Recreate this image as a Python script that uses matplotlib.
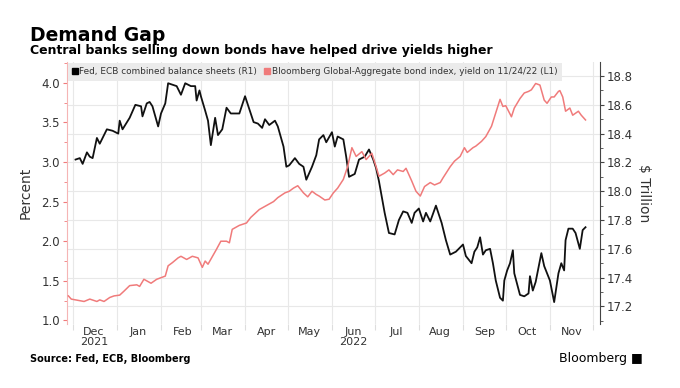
import matplotlib
matplotlib.use('Agg')
import matplotlib.pyplot as plt
import matplotlib.dates as mdates
from matplotlib.lines import Line2D
from matplotlib.ticker import MultipleLocator, FixedLocator
import pandas as pd

# Fed + ECB combined balance sheets, $ trillion (right axis)
bs_dates = ['2021-12-03', '2021-12-06', '2021-12-08', '2021-12-11', '2021-12-13', '2021-12-15',
            '2021-12-18', '2021-12-20', '2021-12-25', '2021-12-29', '2022-01-02', '2022-01-03',
            '2022-01-05', '2022-01-10', '2022-01-14', '2022-01-18', '2022-01-19', '2022-01-22',
            '2022-01-24', '2022-01-26', '2022-01-30', '2022-02-01', '2022-02-04', '2022-02-06',
            '2022-02-09', '2022-02-12', '2022-02-15', '2022-02-18', '2022-02-22', '2022-02-25',
            '2022-02-26', '2022-02-28', '2022-03-01', '2022-03-04', '2022-03-06', '2022-03-08',
            '2022-03-11', '2022-03-13', '2022-03-16', '2022-03-19', '2022-03-22', '2022-03-28',
            '2022-04-01', '2022-04-03', '2022-04-07', '2022-04-10', '2022-04-13', '2022-04-15',
            '2022-04-18', '2022-04-22', '2022-04-24', '2022-04-28', '2022-04-30', '2022-05-02',
            '2022-05-06', '2022-05-09', '2022-05-12', '2022-05-14', '2022-05-18', '2022-05-21',
            '2022-05-23', '2022-05-26', '2022-05-28', '2022-06-01', '2022-06-03', '2022-06-05',
            '2022-06-09', '2022-06-11', '2022-06-13', '2022-06-17', '2022-06-20', '2022-06-24',
            '2022-06-27', '2022-06-30', '2022-07-02', '2022-07-04', '2022-07-08', '2022-07-11',
            '2022-07-15', '2022-07-18', '2022-07-21', '2022-07-24', '2022-07-27', '2022-07-29',
            '2022-08-01', '2022-08-04', '2022-08-06', '2022-08-09', '2022-08-13', '2022-08-17',
            '2022-08-20', '2022-08-23', '2022-08-27', '2022-09-01', '2022-09-03', '2022-09-07',
            '2022-09-09', '2022-09-11', '2022-09-13', '2022-09-15', '2022-09-17', '2022-09-20',
            '2022-09-22', '2022-09-24', '2022-09-27', '2022-09-29', '2022-09-30', '2022-10-02',
            '2022-10-04', '2022-10-06', '2022-10-07', '2022-10-11', '2022-10-14', '2022-10-17',
            '2022-10-18', '2022-10-20', '2022-10-22', '2022-10-26', '2022-10-28', '2022-11-01',
            '2022-11-04', '2022-11-07', '2022-11-09', '2022-11-11', '2022-11-12', '2022-11-14',
            '2022-11-17', '2022-11-19', '2022-11-22', '2022-11-24', '2022-11-26']
bs_vals = [18.22, 18.23, 18.19, 18.27, 18.24, 18.23,
           18.37, 18.33, 18.43, 18.42, 18.40, 18.49,
           18.43, 18.51, 18.60, 18.59, 18.52, 18.61,
           18.62, 18.59, 18.45, 18.54, 18.61, 18.75,
           18.74, 18.73, 18.67, 18.75, 18.73, 18.73,
           18.63, 18.70, 18.66, 18.56, 18.49, 18.32,
           18.51, 18.39, 18.43, 18.58, 18.54, 18.54,
           18.66, 18.60, 18.48, 18.47, 18.44, 18.50,
           18.46, 18.49, 18.45, 18.31, 18.17, 18.18,
           18.23, 18.19, 18.17, 18.08, 18.17, 18.25,
           18.36, 18.39, 18.34, 18.41, 18.31, 18.38,
           18.36, 18.24, 18.10, 18.12, 18.22, 18.24,
           18.29, 18.22, 18.16, 18.07, 17.85, 17.71,
           17.70, 17.80, 17.86, 17.85, 17.78, 17.85,
           17.88, 17.79, 17.85, 17.79, 17.90, 17.78,
           17.66, 17.56, 17.58, 17.63, 17.55, 17.50,
           17.58, 17.61, 17.68, 17.56, 17.59, 17.60,
           17.50, 17.38, 17.26, 17.24, 17.38, 17.45,
           17.50, 17.59, 17.43, 17.28, 17.27, 17.29,
           17.41, 17.31, 17.37, 17.57, 17.48, 17.38,
           17.23, 17.43, 17.50, 17.45, 17.66, 17.74,
           17.74, 17.71, 17.60, 17.73, 17.75]

# Bloomberg Global-Aggregate bond index yield, percent (left axis)
yld_dates = ['2021-11-28', '2021-11-30', '2021-12-06', '2021-12-09', '2021-12-13', '2021-12-18',
             '2021-12-20', '2021-12-23', '2021-12-27', '2021-12-30', '2022-01-03', '2022-01-06',
             '2022-01-10', '2022-01-15', '2022-01-17', '2022-01-20', '2022-01-23', '2022-01-25',
             '2022-01-29', '2022-02-01', '2022-02-04', '2022-02-06', '2022-02-09', '2022-02-13',
             '2022-02-15', '2022-02-19', '2022-02-23', '2022-02-27', '2022-03-02', '2022-03-04',
             '2022-03-06', '2022-03-12', '2022-03-15', '2022-03-19', '2022-03-21', '2022-03-23',
             '2022-03-28', '2022-04-02', '2022-04-05', '2022-04-11', '2022-04-15', '2022-04-21',
             '2022-04-24', '2022-04-29', '2022-05-02', '2022-05-05', '2022-05-08', '2022-05-12',
             '2022-05-15', '2022-05-18', '2022-05-21', '2022-05-23', '2022-05-27', '2022-05-30',
             '2022-06-02', '2022-06-05', '2022-06-09', '2022-06-12', '2022-06-15', '2022-06-18',
             '2022-06-22', '2022-06-25', '2022-06-29', '2022-07-02', '2022-07-04', '2022-07-08',
             '2022-07-11', '2022-07-14', '2022-07-17', '2022-07-21', '2022-07-23', '2022-07-27',
             '2022-07-30', '2022-08-02', '2022-08-05', '2022-08-09', '2022-08-12', '2022-08-16',
             '2022-08-18', '2022-08-23', '2022-08-26', '2022-08-30', '2022-09-02', '2022-09-04',
             '2022-09-08', '2022-09-10', '2022-09-14', '2022-09-17', '2022-09-21', '2022-09-24',
             '2022-09-27', '2022-09-29', '2022-10-01', '2022-10-05', '2022-10-07', '2022-10-11',
             '2022-10-14', '2022-10-17', '2022-10-19', '2022-10-22', '2022-10-25', '2022-10-28',
             '2022-10-30', '2022-11-02', '2022-11-04', '2022-11-07', '2022-11-08', '2022-11-10',
             '2022-11-12', '2022-11-15', '2022-11-17', '2022-11-21', '2022-11-23', '2022-11-26']
yld_vals = [1.31, 1.27, 1.25, 1.24, 1.27, 1.24,
            1.26, 1.24, 1.29, 1.31, 1.32, 1.37,
            1.44, 1.45, 1.43, 1.52, 1.49, 1.47,
            1.52, 1.54, 1.56, 1.69, 1.73, 1.79,
            1.81, 1.77, 1.81, 1.79, 1.67, 1.75,
            1.71, 1.90, 2.00, 2.00, 1.98, 2.15,
            2.20, 2.23, 2.30, 2.40, 2.44, 2.50,
            2.55, 2.61, 2.63, 2.67, 2.70, 2.61,
            2.56, 2.63, 2.59, 2.57, 2.52, 2.53,
            2.61, 2.67, 2.78, 2.94, 3.18, 3.07,
            3.13, 3.03, 3.11, 2.94, 2.82, 2.86,
            2.90, 2.84, 2.90, 2.88, 2.92, 2.76,
            2.63, 2.57, 2.69, 2.74, 2.71, 2.74,
            2.80, 2.94, 3.01, 3.07, 3.18, 3.12,
            3.18, 3.20, 3.26, 3.32, 3.45, 3.62,
            3.79, 3.70, 3.71, 3.57, 3.68, 3.80,
            3.87, 3.89, 3.91, 3.99, 3.97, 3.78,
            3.74, 3.82, 3.82, 3.89, 3.90, 3.82,
            3.64, 3.68, 3.59, 3.64, 3.59, 3.53]

month_labels = ['Dec\n2021', 'Jan', 'Feb', 'Mar', 'Apr', 'May', 'Jun\n2022',
                'Jul', 'Aug', 'Sep', 'Oct', 'Nov']

bs_x = pd.to_datetime(bs_dates)
yld_x = pd.to_datetime(yld_dates)

red = '#f07b7b'
txt = '#333333'

fig = plt.figure(figsize=(6.8, 3.88), dpi=100)
ax = fig.add_axes([0.0985, 0.165, 0.7835, 0.675])
axl = ax.twinx()

# balance sheets on the right axis (main axes, holds the grid)
ax.plot(bs_x, bs_vals, color='#111111', lw=1.3, zorder=3)
ax.set_ylim(17.078, 18.897)
ax.yaxis.tick_right()
ax.yaxis.set_label_position('right')
ax.yaxis.set_major_locator(MultipleLocator(0.2))
ax.yaxis.set_minor_locator(MultipleLocator(0.1))
ax.set_ylabel('$ Trillion', rotation=270, labelpad=13, fontsize=10, color=txt)

# yield on the left axis
axl.plot(yld_x, yld_vals, color=red, lw=1.1, zorder=3)
axl.set_ylim(0.956, 4.26)
axl.yaxis.tick_left()
axl.yaxis.set_label_position('left')
axl.yaxis.set_major_locator(MultipleLocator(0.5))
axl.yaxis.set_minor_locator(MultipleLocator(0.25))
axl.set_ylabel('Percent', fontsize=10, color=txt, labelpad=6)

ax.set_xlim(pd.Timestamp('2021-11-27'), pd.Timestamp('2022-12-06'))
month_starts = pd.date_range('2021-12-01', '2022-12-01', freq='MS')
mid_months = [d + pd.Timedelta(days=15) for d in month_starts[:-1]]
ax.xaxis.set_major_locator(FixedLocator(mdates.date2num(month_starts)))
ax.xaxis.set_minor_locator(FixedLocator(mdates.date2num(mid_months)))
ax.xaxis.set_major_formatter(plt.NullFormatter())
ax.xaxis.set_minor_formatter(plt.FixedFormatter(month_labels))
ax.tick_params(axis='x', which='major', length=4, color='#dddddd', width=0.8)
ax.tick_params(axis='x', which='minor', length=0, labelsize=8, labelcolor=txt, pad=2)
for lab in ax.xaxis.get_minorticklabels():
    lab.set_linespacing(1.0)

ax.grid(True, which='major', color='#e8e8e8', lw=0.8, zorder=0)

for s in ['top', 'bottom', 'left']:
    ax.spines[s].set_visible(False)
    axl.spines[s].set_visible(False)
axl.spines['right'].set_visible(False)
ax.spines['right'].set_color('#444444')
axl.spines['left'].set_visible(True)
axl.spines['left'].set_color('#f5b5b5')

ax.tick_params(axis='y', which='major', length=3, color='#444444', labelsize=8.5, labelcolor=txt, pad=2)
ax.tick_params(axis='y', which='minor', length=2, color='#444444')
axl.tick_params(axis='y', which='major', length=3, color=red, labelsize=8.5, labelcolor=txt, pad=2)
axl.tick_params(axis='y', which='minor', length=2, color=red)
axl.tick_params(axis='x', which='both', length=0, labelbottom=False)

handles = [Line2D([], [], ls='none', marker='s', color='black', markersize=4.5),
           Line2D([], [], ls='none', marker='s', color=red, markersize=4.5)]
labels = ['Fed, ECB combined balance sheets (R1)',
          'Bloomberg Global-Aggregate bond index, yield on 11/24/22 (L1)']
leg = axl.legend(handles, labels, loc='upper left', ncol=2, fontsize=6.4,
                 frameon=True, facecolor='#ebebeb', edgecolor='none', fancybox=False,
                 framealpha=1, handlelength=0.6, handletextpad=0.2, columnspacing=0.8,
                 borderaxespad=0.1, borderpad=0.5)
for t in leg.get_texts():
    t.set_color(txt)

fig.text(0.044, 0.895, 'Demand Gap', fontsize=13.5, fontweight='bold', color='black')
fig.text(0.044, 0.86, 'Central banks selling down bonds have helped drive yields higher',
         fontsize=9, fontweight='bold', color='black')
fig.text(0.044, 0.068, 'Source: Fed, ECB, Bloomberg', fontsize=7, fontweight='bold', color='black')
fig.text(0.945, 0.068, 'Bloomberg \u25a0', fontsize=9, color='black', ha='right')

fig.savefig('out.png', dpi=100)
